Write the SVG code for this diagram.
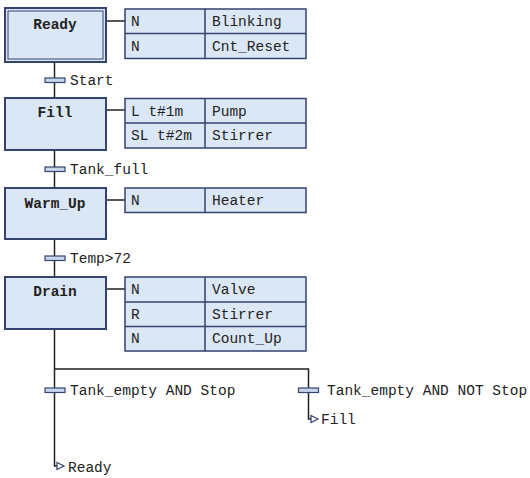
<svg xmlns="http://www.w3.org/2000/svg" width="530" height="478" viewBox="0 0 530 478">
<defs>
<style>
.step{fill:#dce7f5;stroke:#34436f;stroke-width:2}
.inner{fill:none;stroke:#34436f;stroke-width:1}
.act{fill:#dce7f5;stroke:#34436f;stroke-width:1.5}
.line{stroke:#222;stroke-width:1.5;fill:none}
.bar{fill:#c9d6ea;stroke:#34436f;stroke-width:1.2}
.jump{fill:#fff;stroke:#34436f;stroke-width:1.2}
text{font-family:"Liberation Mono","DejaVu Sans Mono",monospace;font-size:14.5px;fill:#222}
.name{font-weight:bold;text-anchor:middle}
</style>
</defs>
<rect width="530" height="478" fill="#fff"/>
<g id="connectors">
<path class="line" d="M54.5 62V98M54.5 150V188M54.5 239V277M54.5 329V466H57M54.5 369H308.5V419H311"/>
<path class="line" d="M106 21H125M106 110H125M106 200H125M106 289H125"/>
<rect class="bar" x="45" y="78" width="20" height="4.5"/>
<text x="70" y="85">Start</text>
<rect class="bar" x="45" y="167" width="20" height="4.5"/>
<text x="70" y="174">Tank_full</text>
<rect class="bar" x="45" y="256" width="20" height="4.5"/>
<text x="70" y="263">Temp&gt;72</text>
<rect class="bar" x="45" y="388" width="20" height="4.5"/>
<text x="70" y="395">Tank_empty AND Stop</text>
<rect class="bar" x="298.5" y="388" width="20" height="4.5"/>
<text x="327" y="395">Tank_empty AND NOT Stop</text>
<path class="jump" d="M311 415.5L318 419L311 422.5Z"/>
<text x="321" y="424">Fill</text>
<path class="jump" d="M57 462.5L64 466L57 469.5Z"/>
<text x="68" y="472">Ready</text>
</g>
<g id="step-ready">
<rect class="step" x="5" y="8" width="101" height="54"/>
<rect class="inner" x="8" y="11" width="95" height="48"/>
<text class="name" x="55" y="29">Ready</text>
<rect class="act" x="125" y="9" width="181" height="49.5"/>
<path class="act" d="M205 9V58.5M125 33.5H306"/>
<text x="131" y="26">N</text><text x="212" y="26">Blinking</text>
<text x="131" y="51">N</text><text x="212" y="51">Cnt_Reset</text>
</g>
<g id="step-fill">
<rect class="step" x="5" y="98" width="101" height="52"/>
<text class="name" x="55" y="117">Fill</text>
<rect class="act" x="125" y="98.5" width="181" height="49.5"/>
<path class="act" d="M205 98.5V148M125 123H306"/>
<text x="131" y="116">L t#1m</text><text x="212" y="116">Pump</text>
<text x="131" y="140">SL t#2m</text><text x="212" y="140">Stirrer</text>
</g>
<g id="step-warmup">
<rect class="step" x="5" y="188" width="101" height="51"/>
<text class="name" x="55" y="208">Warm_Up</text>
<rect class="act" x="125" y="188" width="181" height="24.5"/>
<path class="act" d="M205 188V212.5"/>
<text x="131" y="205">N</text><text x="212" y="205">Heater</text>
</g>
<g id="step-drain">
<rect class="step" x="5" y="277" width="101" height="52"/>
<text class="name" x="55" y="296">Drain</text>
<rect class="act" x="125" y="277" width="181" height="74"/>
<path class="act" d="M205 277V351M125 302H306M125 326.5H306"/>
<text x="131" y="294">N</text><text x="212" y="294">Valve</text>
<text x="131" y="319">R</text><text x="212" y="319">Stirrer</text>
<text x="131" y="343">N</text><text x="212" y="343">Count_Up</text>
</g>
</svg>
